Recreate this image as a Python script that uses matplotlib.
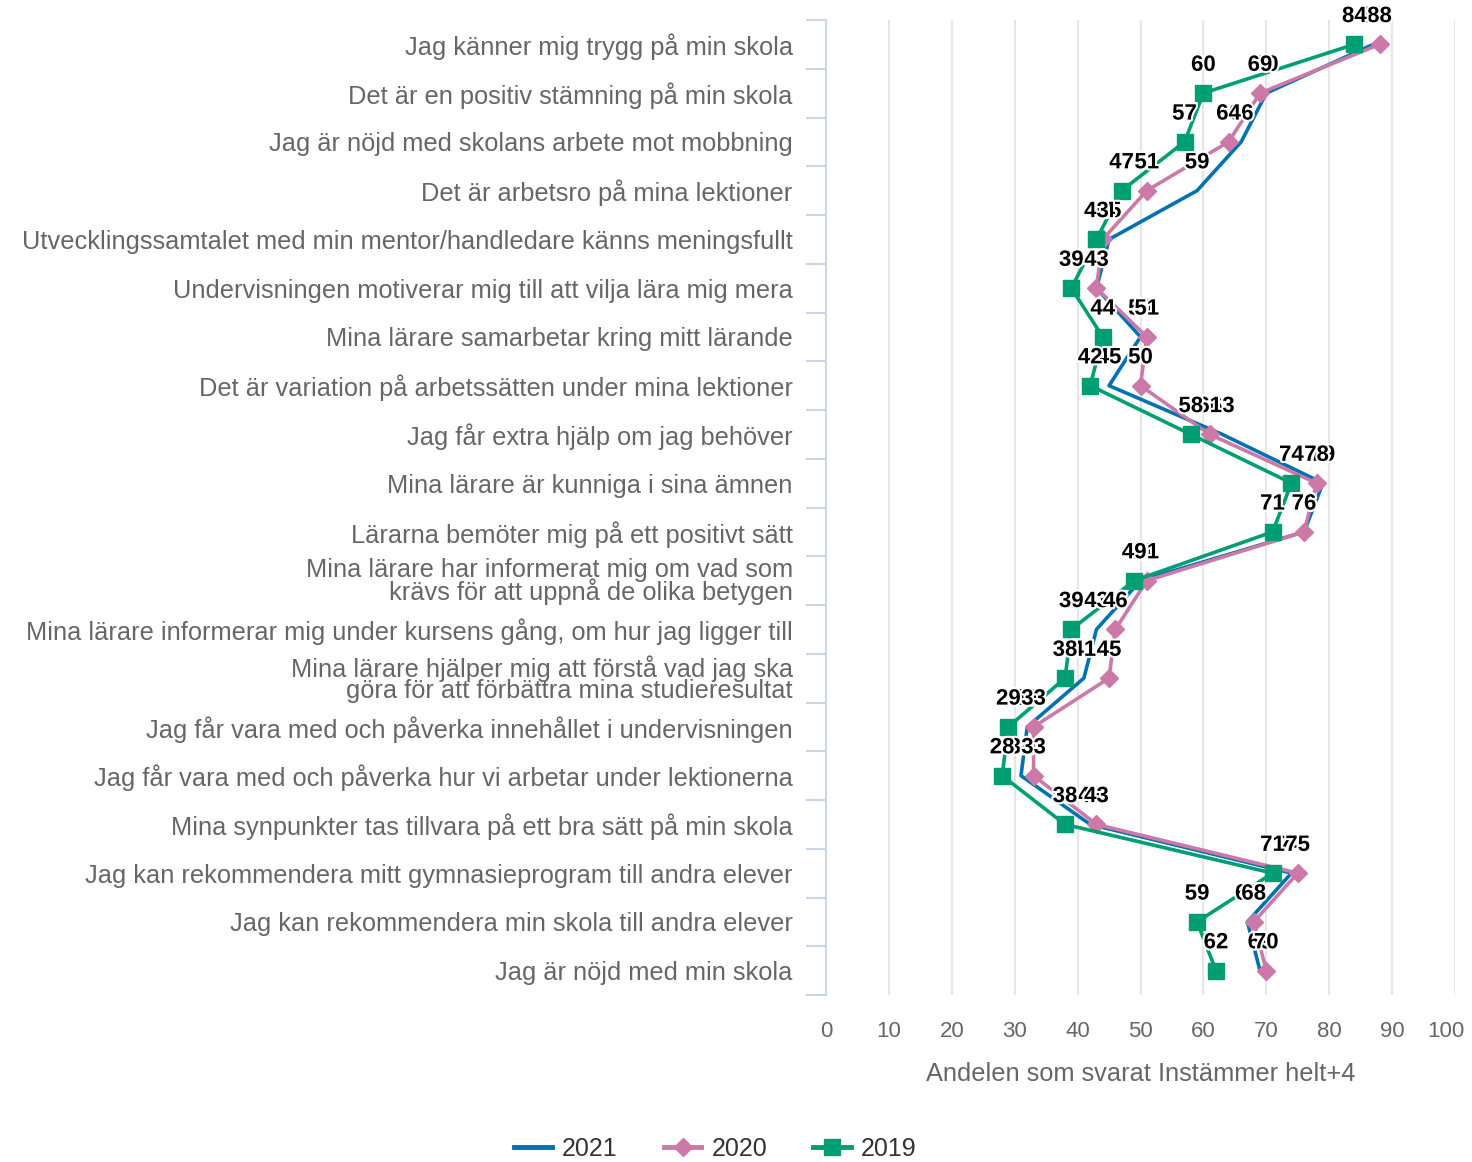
import numpy as np
import matplotlib
matplotlib.use('Agg')
import matplotlib.pyplot as plt
import matplotlib.patheffects as pe
from matplotlib.transforms import ScaledTranslation

plt.rcParams['font.family'] = ['Liberation Sans', 'DejaVu Sans']

categories = [
    'Jag känner mig trygg på min skola',
    'Det är en positiv stämning på min skola',
    'Jag är nöjd med skolans arbete mot mobbning',
    'Det är arbetsro på mina lektioner',
    'Utvecklingssamtalet med min mentor/handledare känns meningsfullt',
    'Undervisningen motiverar mig till att vilja lära mig mera',
    'Mina lärare samarbetar kring mitt lärande',
    'Det är variation på arbetssätten under mina lektioner',
    'Jag får extra hjälp om jag behöver',
    'Mina lärare är kunniga i sina ämnen',
    'Lärarna bemöter mig på ett positivt sätt',
    'Mina lärare har informerat mig om vad som\nkrävs för att uppnå de olika betygen',
    'Mina lärare informerar mig under kursens gång, om hur jag ligger till',
    'Mina lärare hjälper mig att förstå vad jag ska\ngöra för att förbättra mina studieresultat',
    'Jag får vara med och påverka innehållet i undervisningen',
    'Jag får vara med och påverka hur vi arbetar under lektionerna',
    'Mina synpunkter tas tillvara på ett bra sätt på min skola',
    'Jag kan rekommendera mitt gymnasieprogram till andra elever',
    'Jag kan rekommendera min skola till andra elever',
    'Jag är nöjd med min skola',
]

v2021 = [87, 70, 66, 59, 45, 43, 50, 45, 63, 79, 76, 50, 43, 41, 32, 31, 42, 74, 67, 69]
v2020 = [88, 69, 64, 51, 44, 43, 51, 50, 61, 78, 76, 51, 46, 45, 33, 33, 43, 75, 68, 70]
v2019 = [84, 60, 57, 47, 43, 39, 44, 42, 58, 74, 71, 49, 39, 38, 29, 28, 38, 71, 59, 62]

series = [
    ('2021', v2021, '#0072b2', None, 0),
    ('2020', v2020, '#cc79a7', 'D', 9),
    ('2019', v2019, '#009e73', 's', 12),
]

fig = plt.figure(figsize=(14.72, 11.62), dpi=100)
ax = fig.add_axes([826 / 1472, 1 - 995 / 1162, 629 / 1472, 975 / 1162])

y = np.arange(len(categories))
for i, (name, vals, col, mk, ms) in enumerate(series):
    ax.plot(vals, y, color=col, lw=2.6, marker=mk, markersize=ms,
            label=name, zorder=3 + i, clip_on=False)

for i, (name, vals, col, mk, ms) in enumerate(series):
    for v, yy in zip(vals, y):
        ax.annotate(str(v), (v, yy), xytext=(0, 20), textcoords='offset points',
                    ha='center', va='center', fontsize=16, fontweight='bold',
                    color='black', zorder=10 + i, annotation_clip=False,
                    path_effects=[pe.withStroke(linewidth=3, foreground='white')])

ax.set_xlim(0, 100)
ax.set_ylim(len(categories) - 0.5, -0.5)
ax.set_xticks(np.arange(0, 101, 10))
ax.set_yticks(y)
ax.set_yticklabels(categories, linespacing=0.85)
ax.set_yticks(np.arange(-0.5, len(categories), 1), minor=True)

ax.tick_params(axis='y', which='major', length=0, pad=24, labelsize=18.3,
               labelcolor='#666666')
ax.tick_params(axis='y', which='minor', length=14.5, width=1.5, color='#ccd6eb')
ax.tick_params(axis='x', length=0, pad=19, labelsize=16, labelcolor='#666666')

# last x label is pulled left so it fits inside the figure
last = ax.get_xticklabels()[-1]
last.set_transform(last.get_transform() + ScaledTranslation(-0.09, 0, fig.dpi_scale_trans))

for gx in range(10, 101, 10):
    ax.axvline(gx, color='#e6e6e6', lw=1.5, zorder=1)

for s in ['top', 'right', 'bottom']:
    ax.spines[s].set_visible(False)
ax.spines['left'].set_color('#ccd6eb')
ax.spines['left'].set_linewidth(1.5)

ax.set_xlabel('Andelen som svarat Instämmer helt+4', fontsize=18.3,
              color='#666666', labelpad=14)

leg = fig.legend(loc='center', bbox_to_anchor=(0.486, 0.011), ncol=3, frameon=False,
                 fontsize=18, handlelength=1.5, handletextpad=0.4, columnspacing=1.85,
                 labelcolor='#333333')
for h in leg.legend_handles:
    h.set_linewidth(3.5)

fig.savefig('out.png', dpi=100)
